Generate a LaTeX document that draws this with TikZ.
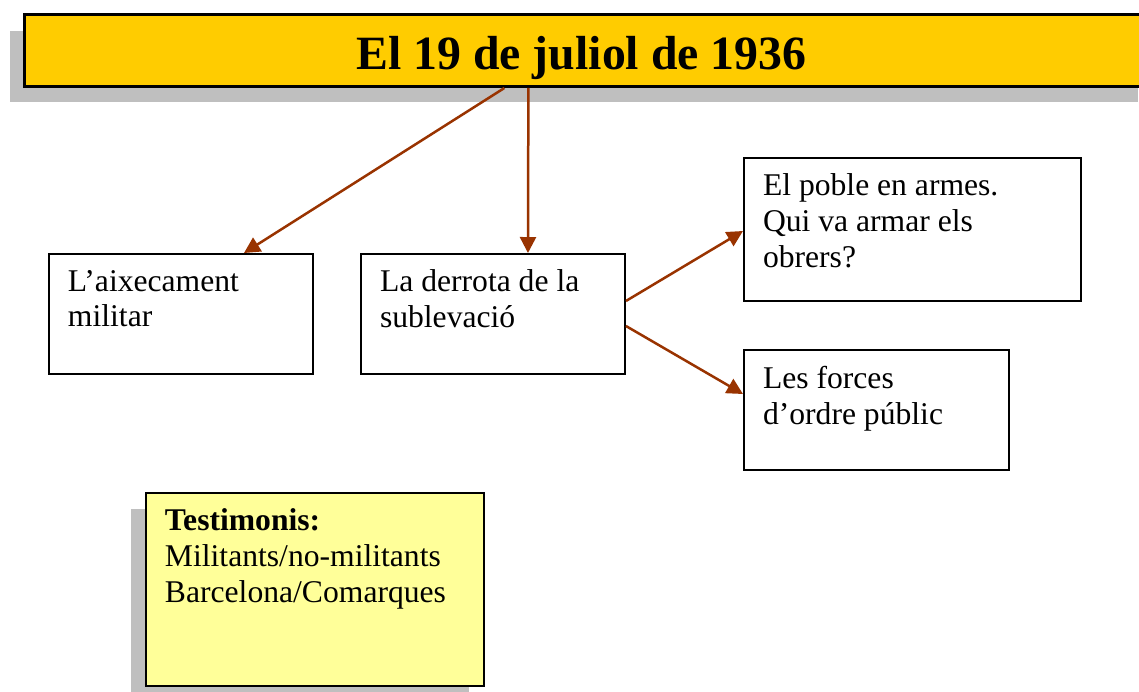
\documentclass[tikz,border=0pt]{standalone}
\usepackage{fontspec}
\setmainfont{Liberation Serif}
\usetikzlibrary{arrows.meta}
\usetikzlibrary{calc}
\usetikzlibrary{shadows}
\definecolor{titlegold}{HTML}{FFCC00}
\definecolor{notepale}{HTML}{FFFF99}
\definecolor{arrowrust}{HTML}{993300}
\definecolor{shadowgray}{HTML}{BFBFBF}
\tikzset{box/.style={draw,line width=0.04cm,anchor=north west,inner xsep=0.38cm,inner ysep=0.32cm,font=\fontsize{18}{20.4}\selectfont}}
\tikzset{shadowed/.style={drop shadow={shadow xshift=-0.3cm,shadow yshift=-0.32cm,fill=shadowgray,opacity=1}}}
\tikzset{arr/.style={draw=arrowrust,line width=0.05cm,-{Triangle[length=0.32cm,width=0.32cm]}}}

\begin{document}
\begin{tikzpicture}[x=0.02cm,y=-0.02cm]
\useasboundingbox (0,0) rectangle (1139,691);
\clip (0,0) rectangle (1139,691);

\node[draw,line width=0.06cm,fill=titlegold,shadowed,anchor=north west,inner sep=0,
  minimum width=22.58cm,minimum height=1.44cm,text height=0.76cm,text depth=0cm,
  font=\fontsize{27.2}{32}\selectfont\bfseries]
  (title) at (23,13) {El 19 de juliol de 1936\rule{0.3cm}{0pt}};

\node[box] (aix) at (48,253)
  {\parbox[t][1.76cm][t]{4.52cm}{\raggedright L’aixecament\\militar}};
\node[box] (derrota) at (360,253)
  {\parbox[t][1.76cm][t]{4.52cm}{\raggedright La derrota de la\\sublevació}};
\node[box] (poble) at (743,157)
  {\parbox[t][2.22cm][t]{5.98cm}{\raggedright El poble en armes.\\Qui va armar els\\obrers?}};
\node[box] (forces) at (743,349)
  {\parbox[t][1.76cm][t]{4.54cm}{\raggedright Les forces\\d’ordre públic}};

\node[box,fill=notepale,shadowed] (testim) at (145,492)
  {\parbox[t][3.22cm][t]{6cm}{\raggedright\textbf{Testimonis:}\\Militants/no-militants\\Barcelona/Comarques}};

\draw[arr] ($(title.south)+(-84.5,0)$) -- ($(aix.north)+(63,0)$);
\draw[arr] ($(title.south)+(-60.5,0)$) -- ($(derrota.north)+(35,0)$);
\draw[arr] ($(derrota.east)+(0,-13)$) -- ($(poble.west)+(0,1.5)$);
\draw[arr] ($(derrota.east)+(0,12)$) -- ($(forces.west)+(0,-16)$);

\end{tikzpicture}
\end{document}
